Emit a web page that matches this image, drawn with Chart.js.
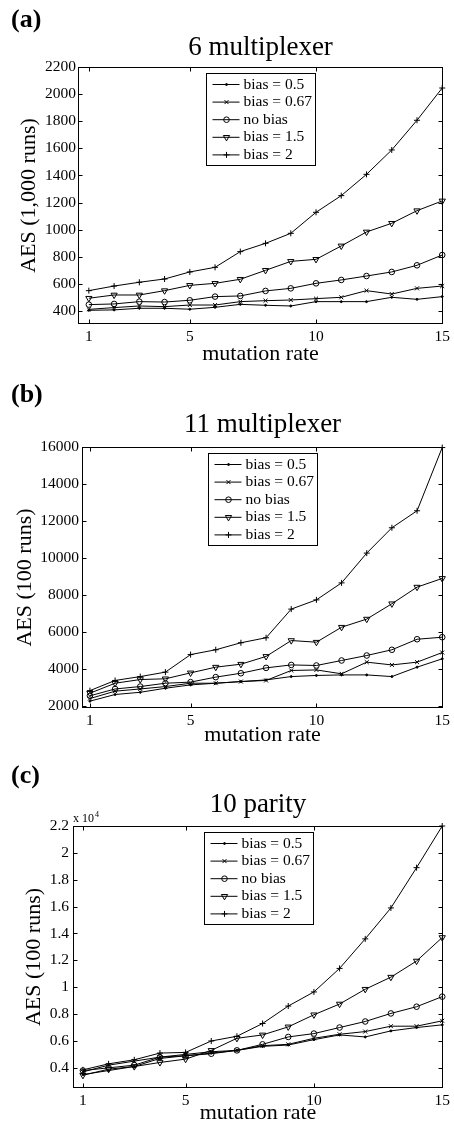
<!DOCTYPE html>
<html>
<head>
<meta charset="utf-8">
<script src="https://cdn.jsdelivr.net/npm/chart.js@4.4.1/dist/chart.umd.min.js"></script>
<style>
  html, body { margin: 0; padding: 0; background: #fff; }
  body { width: 454px; height: 1131px; position: relative; overflow: hidden; }
  canvas { position: absolute; left: 0; }
</style>
</head>
<body>
<canvas id="mux6" width="454" height="372" style="top:0px"></canvas>
<canvas id="mux11" width="454" height="380" style="top:372px"></canvas>
<canvas id="parity10" width="454" height="379" style="top:752px"></canvas>
<script>
// mutation rate on the x axis, same for all three panels
const MUTATION_RATE = [1, 2, 3, 4, 5, 6, 7, 8, 9, 10, 11, 12, 13, 14, 15];
const X_TICKS = [1, 5, 10, 15];
const SERIES_LABELS = ['bias = 0.5', 'bias = 0.67', 'no bias', 'bias = 1.5', 'bias = 2'];

// (a) 6 multiplexer, AES over 1,000 runs
const MUX6_BIAS_05  = [405, 408, 420, 420, 413, 427, 449, 442, 437, 469, 469, 469, 501, 486, 506];
const MUX6_BIAS_067 = [412, 425, 437, 432, 444, 444, 469, 476, 481, 491, 501, 550, 525, 567, 584];
const MUX6_NO_BIAS  = [447, 452, 469, 466, 479, 506, 511, 548, 567, 604, 629, 658, 688, 737, 813];
const MUX6_BIAS_15  = [494, 518, 518, 550, 589, 604, 634, 700, 766, 781, 880, 983, 1047, 1140, 1212];
const MUX6_BIAS_2   = [550, 584, 612, 636, 688, 722, 838, 899, 973, 1128, 1251, 1408, 1588, 1807, 2045];
const MUX6_Y_TICKS  = [400, 600, 800, 1000, 1200, 1400, 1600, 1800, 2000, 2200];

// (b) 11 multiplexer, AES over 100 runs
const MUX11_BIAS_05  = [2250, 2610, 2730, 2950, 3130, 3220, 3310, 3400, 3580, 3640, 3670, 3670, 3580, 4090, 4540];
const MUX11_BIAS_067 = [2390, 2790, 2910, 3040, 3220, 3220, 3310, 3370, 3910, 3940, 3730, 4360, 4210, 4360, 4880];
const MUX11_NO_BIAS  = [2540, 2910, 3040, 3220, 3280, 3550, 3760, 4050, 4210, 4180, 4450, 4720, 5030, 5600, 5710];
const MUX11_BIAS_15  = [2680, 3220, 3420, 3460, 3780, 4090, 4250, 4670, 5530, 5440, 6250, 6690, 7520, 8420, 8890];
const MUX11_BIAS_2   = [2820, 3370, 3580, 3820, 4770, 5030, 5410, 5680, 7230, 7730, 8650, 10260, 11630, 12550, 15970];
const MUX11_Y_TICKS  = [2000, 4000, 6000, 8000, 10000, 12000, 14000, 16000];

// (c) 10 parity, AES over 100 runs
const PARITY_BIAS_05  = [3500, 3800, 4100, 4700, 4900, 5100, 5300, 5600, 5700, 6100, 6450, 6300, 6750, 7000, 7200];
const PARITY_BIAS_067 = [3700, 4200, 4500, 4800, 5000, 5200, 5300, 5650, 5750, 6200, 6500, 6700, 7100, 7100, 7500];
const PARITY_NO_BIAS  = [3800, 4000, 4200, 4800, 4900, 5050, 5300, 5750, 6300, 6550, 7000, 7450, 8050, 8550, 9300];
const PARITY_BIAS_15  = [3450, 3900, 4100, 4400, 4650, 5300, 6200, 6450, 7050, 7950, 8750, 9850, 10750, 11950, 13700];
const PARITY_BIAS_2   = [3850, 4300, 4600, 5100, 5150, 6000, 6350, 7300, 8600, 9650, 11400, 13600, 15900, 18900, 22000];
const PARITY_Y_TICKS  = [4000, 6000, 8000, 10000, 12000, 14000, 16000, 18000, 20000, 22000];

// matlab-ish markers: '.', 'x', 'o', 'v', '+'
const MARKERS = [
  { style: 'circle',   r: 1,   rot: 0,   fill: '#000' },
  { style: 'crossRot', r: 2.8, rot: 0,   fill: 'rgba(0,0,0,0)' },
  { style: 'circle',   r: 2.8, rot: 0,   fill: 'rgba(0,0,0,0)' },
  { style: 'triangle', r: 3.6, rot: 180, fill: 'rgba(0,0,0,0)' },
  { style: 'cross',    r: 3,   rot: 0,   fill: 'rgba(0,0,0,0)' },
];

const SERIF = "'Liberation Serif', 'Times New Roman', serif";
Chart.defaults.font.family = SERIF;
Chart.defaults.color = '#000';

// boxed axes with inward ticks, legend inside the box, panel letter and title
const matlabAxes = {
  id: 'matlabAxes',
  afterDatasetsDraw(chart, args, o) {
    const { ctx, chartArea: a } = chart;
    const xs = chart.scales.x, ys = chart.scales.y;
    const L = Math.round(a.left) + 0.5, R = Math.round(a.right) - 0.5;
    const T = Math.round(a.top) + 0.5, B = Math.round(a.bottom) - 0.5;
    ctx.save();
    ctx.strokeStyle = '#000';
    ctx.lineWidth = 1;
    ctx.beginPath();
    xs.ticks.forEach(t => {
      const px = Math.round(xs.getPixelForValue(t.value)) + 0.5;
      ctx.moveTo(px, B); ctx.lineTo(px, B - 4);
      ctx.moveTo(px, T); ctx.lineTo(px, T + 4);
    });
    ys.ticks.forEach(t => {
      const py = Math.round(ys.getPixelForValue(t.value)) + 0.5;
      ctx.moveTo(L, py); ctx.lineTo(L + 4, py);
      ctx.moveTo(R, py); ctx.lineTo(R - 4, py);
    });
    ctx.stroke();
    ctx.strokeRect(L, T, R - L, B - T);

    // legend
    const w = 109, h = 92;
    const bx = Math.round((a.left + a.right) / 2 - w / 2) + 0.5;
    const by = Math.round(a.top + 6) + 0.5;
    ctx.fillStyle = '#fff';
    ctx.fillRect(bx, by, w, h);
    ctx.strokeRect(bx, by, w, h);
    ctx.font = '15.5px ' + SERIF;
    ctx.textBaseline = 'middle';
    ctx.textAlign = 'left';
    chart.data.datasets.forEach((ds, i) => {
      const cy = by + 11 + i * 17.6;
      ctx.strokeStyle = '#000';
      ctx.beginPath(); ctx.moveTo(bx + 6, cy); ctx.lineTo(bx + 33, cy); ctx.stroke();
      ctx.fillStyle = ds.pointBackgroundColor;
      Chart.helpers.drawPoint(ctx, {
        pointStyle: ds.pointStyle, radius: ds.pointRadius,
        rotation: ds.pointRotation, borderWidth: 1,
      }, bx + 20, cy);
      ctx.fillStyle = '#000';
      ctx.fillText(ds.label, bx + 37, cy);
    });

    // panel letter and title
    ctx.textBaseline = 'alphabetic';
    ctx.font = 'bold 26px ' + SERIF;
    ctx.textAlign = 'left';
    ctx.fillText(o.letter, 11, o.letterY);
    ctx.font = '27px ' + SERIF;
    ctx.textAlign = 'center';
    ctx.fillText(o.title, (a.left + a.right) / 2, o.titleY);
    if (o.exponent) {
      ctx.textAlign = 'left';
      ctx.font = '12px ' + SERIF;
      ctx.fillText('x 10', a.left, o.exponentY);
      const ew = ctx.measureText('x 10').width;
      ctx.font = '8px ' + SERIF;
      ctx.fillText(o.exponent, a.left + ew + 1, o.exponentY - 5);
    }
    ctx.restore();
  }
};

function buildPanel(id, p) {
  const canvasH = document.getElementById(id).height;
  const datasets = p.series.map((vals, i) => ({
    label: SERIES_LABELS[i],
    data: MUTATION_RATE.map((x, j) => ({ x, y: vals[j] })),
    borderColor: '#000',
    borderWidth: 1,
    tension: 0,
    clip: false,
    pointStyle: MARKERS[i].style,
    pointRadius: MARKERS[i].r,
    pointHoverRadius: MARKERS[i].r,
    pointRotation: MARKERS[i].rot,
    pointBorderColor: '#000',
    pointBorderWidth: 1,
    pointBackgroundColor: MARKERS[i].fill,
  }));

  return new Chart(document.getElementById(id), {
    type: 'line',
    data: { datasets },
    options: {
      responsive: false,
      animation: false,
      events: [],
      layout: { padding: { top: p.area.top, right: 454 - p.area.right, bottom: 0, left: 0 } },
      plugins: {
        legend: { display: false },
        tooltip: { enabled: false },
        matlabAxes: p.deco,
      },
      scales: {
        x: {
          type: 'linear',
          min: p.xMin, max: 15.03,
          afterBuildTicks: s => { s.ticks = X_TICKS.map(v => ({ value: v })); },
          afterFit: s => { s.height = canvasH - p.area.bottom; },
          grid: { display: false, drawTicks: false },
          border: { display: false },
          ticks: { font: { size: 15.5 }, padding: 4, maxRotation: 0, autoSkip: false, callback: v => String(v) },
          title: { display: true, text: 'mutation rate', font: { size: 22 }, padding: { top: 0, bottom: p.xTitlePad } },
        },
        y: {
          min: p.yMin, max: p.yMax,
          afterBuildTicks: s => { s.ticks = p.yTicks.map(v => ({ value: v })); },
          afterFit: s => { s.width = p.area.left; },
          grid: { display: false, drawTicks: false },
          border: { display: false },
          ticks: { font: { size: 15.5 }, padding: p.yTickPad, autoSkip: false, callback: p.yFormat },
          title: { display: true, text: p.yTitle, font: { size: 22 }, padding: { top: p.yTitlePad, bottom: 0 } },
        },
      },
    },
    plugins: [matlabAxes],
  });
}

buildPanel('mux6', {
  series: [MUX6_BIAS_05, MUX6_BIAS_067, MUX6_NO_BIAS, MUX6_BIAS_15, MUX6_BIAS_2],
  yTicks: MUX6_Y_TICKS, yMin: 304, yMax: 2200, xMin: 0.57,
  yFormat: v => String(v),
  yTitle: 'AES (1,000 runs)',
  area: { left: 78, right: 444, top: 67, bottom: 324 },
  xTitlePad: 4.8, yTitlePad: 16, yTickPad: 2,
  deco: { letter: '(a)', letterY: 27, title: '6 multiplexer', titleY: 55 },
});

buildPanel('mux11', {
  series: [MUX11_BIAS_05, MUX11_BIAS_067, MUX11_NO_BIAS, MUX11_BIAS_15, MUX11_BIAS_2],
  yTicks: MUX11_Y_TICKS, yMin: 1880, yMax: 16000, xMin: 0.685,
  yFormat: v => String(v),
  yTitle: 'AES (100 runs)',
  area: { left: 82, right: 446, top: 75, bottom: 336 },
  xTitlePad: 3.3, yTitlePad: 12, yTickPad: 3,
  deco: { letter: '(b)', letterY: 30, title: '11 multiplexer', titleY: 60 },
});

buildPanel('parity10', {
  series: [PARITY_BIAS_05, PARITY_BIAS_067, PARITY_NO_BIAS, PARITY_BIAS_15, PARITY_BIAS_2],
  yTicks: PARITY_Y_TICKS, yMin: 2500, yMax: 22000, xMin: 0.613,
  yFormat: v => String(+(v / 1e4).toFixed(1)),
  yTitle: 'AES (100 runs)',
  area: { left: 73, right: 446, top: 74, bottom: 336 },
  xTitlePad: 4.8, yTitlePad: 21, yTickPad: 4,
  deco: { letter: '(c)', letterY: 31, title: '10 parity', titleY: 60, exponent: '4', exponentY: 70 },
});
</script>
</body>
</html>
